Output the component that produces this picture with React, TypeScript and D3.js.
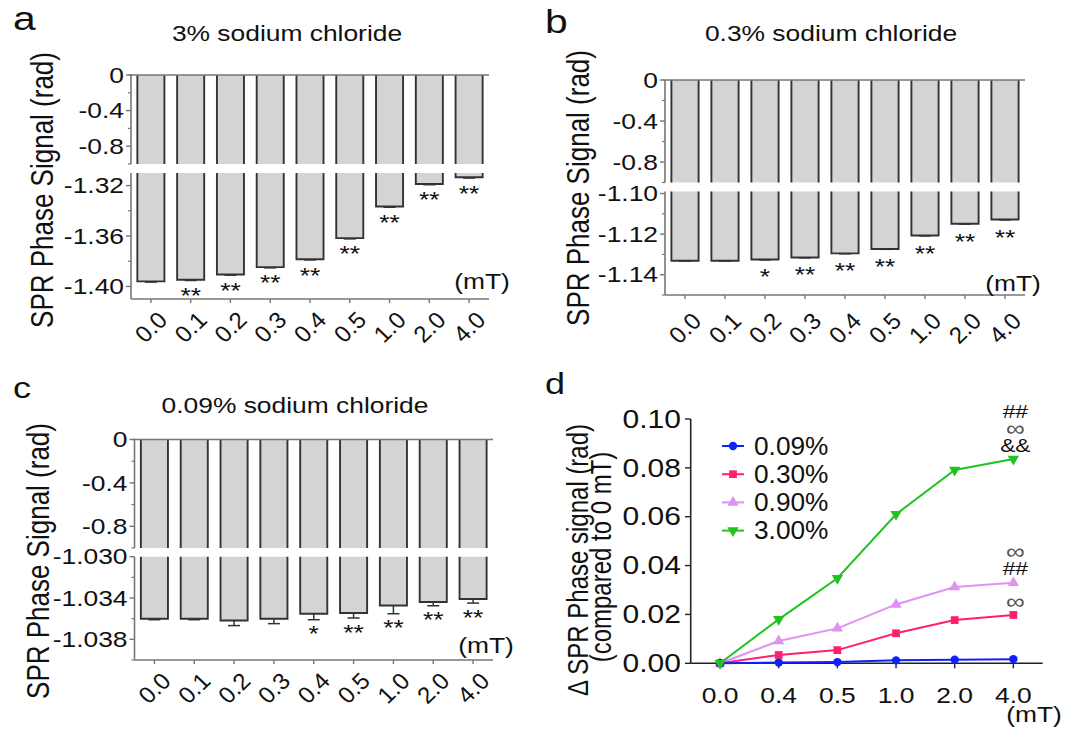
import React from 'react';
import * as d3 from 'd3';

// field strength categories (mT)
const fields = ['0.0', '0.1', '0.2', '0.3', '0.4', '0.5', '1.0', '2.0', '4.0'];

// panel a: 3% NaCl
const nacl3 = [-1.396, -1.3947, -1.3905, -1.3847, -1.3784, -1.3617, -1.3366, -1.3187, -1.3134];
const nacl3Err = [0.0006, 0.0006, 0.0006, 0.0006, 0.0006, 0.0006, 0.0006, 0.0006, 0.0006];
const nacl3Sig = ['', '**', '**', '**', '**', '**', '**', '**', '**'];

// panel b: 0.3% NaCl
const nacl03 = [-1.1331, -1.1331, -1.1325, -1.1315, -1.1295, -1.1273, -1.1207, -1.1149, -1.1128];
const nacl03Err = [0.0002, 0.0002, 0.0002, 0.0002, 0.0002, 0.0002, 0.0002, 0.0002, 0.0002];
const nacl03Sig = ['', '', '*', '**', '**', '**', '**', '**', '**'];

// panel c: 0.09% NaCl
const nacl009 = [-1.036, -1.036, -1.03617, -1.036, -1.03552, -1.03545, -1.03472, -1.03439, -1.0341];
const nacl009Err = [0.0001, 0.0001, 0.0005, 0.00048, 0.00058, 0.00048, 0.0008, 0.00036, 0.00039];
const nacl009Sig = ['', '', '', '', '*', '**', '**', '**', '**'];

// panel d: delta phase vs 0 mT
const dFields = ['0.0', '0.4', '0.5', '1.0', '2.0', '4.0'];
const d009 = [0, 0.0003, 0.0005, 0.0012, 0.0015, 0.0017];
const d030 = [0, 0.0034, 0.0054, 0.0123, 0.0177, 0.0198];
const d090 = [0, 0.0091, 0.0143, 0.0241, 0.0312, 0.033];
const d300 = [0, 0.018, 0.0348, 0.061, 0.0791, 0.0836];
const dTicks = [0, 0.02, 0.04, 0.06, 0.08, 0.1];
const annot300 = ['##', '∞', '&&'];
const annot090 = ['∞', '##'];
const annot030 = ['∞'];

const SX = 1.2;
const FONT = "'Liberation Sans', Arial, Helvetica, sans-serif";
const INK = '#111';
const AXIS = '#767676';

function T({ x, y, size, anchor = 'start', rot = 0, sx = SX, fill = INK, dy = '0.35em', children }: any) {
  const tr = `translate(${x},${y}) scale(${sx},1)` + (rot ? ` rotate(${rot})` : '');
  return (
    <text transform={tr} fontSize={size} textAnchor={anchor} dy={dy} fill={fill}>
      {children}
    </text>
  );
}

const fmtTick = (v: number, n: number) => (v === 0 ? '0' : v.toFixed(n));

function BarPanel({ cfg, values, errs, sig }: any) {
  const x = d3.scaleBand().domain(fields).range([cfg.x0, cfg.x1]).paddingInner(0.32).paddingOuter(0.16);
  const up = d3.scaleLinear().domain([-1, 0]).range([cfg.breakTop, cfg.zeroY]);
  const lo = d3.scaleLinear().domain(cfg.lowerDomain).range([cfg.bottomY, cfg.breakBot]);
  const bw = x.bandwidth();
  const upMajor = [0, -0.4, -0.8];
  const upMinor = [-0.2, -0.6, -1.0];

  return (
    <g>
      <T x={cfg.letterX} y={cfg.letterY} size={cfg.letterSize} dy="0">{cfg.letter}</T>
      <T x={cfg.titleX} y={cfg.titleY} size={22} anchor="middle">{cfg.title}</T>
      <T x={cfg.yTitleX} y={cfg.yTitleY} size={26} anchor="middle" rot={-90}>SPR Phase Signal (rad)</T>

      {/* bars, split at the axis break */}
      {values.map((v: number, i: number) => {
        const xl = x(fields[i]) as number;
        const yv = lo(v);
        return (
          <g key={i}>
            <rect x={xl} y={cfg.zeroY} width={bw} height={cfg.breakTop - cfg.zeroY} fill="#d4d4d4" />
            <rect x={xl} y={cfg.breakBot} width={bw} height={yv - cfg.breakBot} fill="#d4d4d4" />
            <path
              d={`M${xl},${cfg.zeroY}V${cfg.breakTop}M${xl + bw},${cfg.zeroY}V${cfg.breakTop}`}
              stroke="#333" strokeWidth={1.9} fill="none"
            />
            <path
              d={`M${xl},${cfg.breakBot}V${yv}H${xl + bw}V${cfg.breakBot}`}
              stroke="#333" strokeWidth={1.9} fill="none"
            />
          </g>
        );
      })}

      {/* error bars and significance */}
      {values.map((v: number, i: number) => {
        const cx = (x(fields[i]) as number) + bw / 2;
        const ye = lo(v - errs[i]);
        return (
          <g key={'e' + i}>
            <line x1={cx} x2={cx} y1={lo(v)} y2={ye} stroke="#333" strokeWidth={1.5} />
            <line x1={cx - 6} x2={cx + 6} y1={ye} y2={ye} stroke="#333" strokeWidth={1.5} />
            {sig[i] && (
              <T x={cx} y={ye + cfg.starGap + 12.6} size={22} anchor="middle" dy="0">{sig[i]}</T>
            )}
          </g>
        );
      })}

      {/* axes */}
      <line x1={cfg.x0 - 2} x2={cfg.x1} y1={cfg.zeroY} y2={cfg.zeroY} stroke={AXIS} strokeWidth={1.6} />
      <line x1={cfg.x0} x2={cfg.x1} y1={cfg.bottomY} y2={cfg.bottomY} stroke={AXIS} strokeWidth={1.6} />
      <line x1={cfg.x0} x2={cfg.x0} y1={cfg.zeroY} y2={cfg.breakTop} stroke={AXIS} strokeWidth={1.6} />
      <line x1={cfg.x0} x2={cfg.x0} y1={cfg.breakBot} y2={cfg.bottomY} stroke={AXIS} strokeWidth={1.6} />

      {upMajor.map((t) => (
        <g key={'um' + t}>
          <line x1={cfg.x0 - 5} x2={cfg.x0} y1={up(t)} y2={up(t)} stroke={AXIS} strokeWidth={1.4} />
          <T x={cfg.x0 - 7} y={up(t)} size={22} anchor="end">{fmtTick(t, 1)}</T>
        </g>
      ))}
      {upMinor.map((t) => (
        <line key={'un' + t} x1={cfg.x0 - 3} x2={cfg.x0} y1={up(t)} y2={up(t)} stroke={AXIS} strokeWidth={1.2} />
      ))}
      {cfg.lowerMajor.map((t: number) => (
        <g key={'lm' + t}>
          <line x1={cfg.x0 - 5} x2={cfg.x0} y1={lo(t)} y2={lo(t)} stroke={AXIS} strokeWidth={1.4} />
          <T x={cfg.x0 - 7} y={lo(t)} size={22} anchor="end">{fmtTick(t, cfg.digits)}</T>
        </g>
      ))}
      {cfg.lowerMinor.map((t: number) => (
        <line key={'ln' + t} x1={cfg.x0 - 3} x2={cfg.x0} y1={lo(t)} y2={lo(t)} stroke={AXIS} strokeWidth={1.2} />
      ))}

      {fields.map((f) => {
        const cx = (x(f) as number) + bw / 2;
        return (
          <g key={'x' + f}>
            <line x1={cx} x2={cx} y1={cfg.bottomY} y2={cfg.bottomY + 4} stroke={AXIS} strokeWidth={1.4} />
            <T x={cx} y={cfg.labelY} size={23} anchor="middle" rot={-45} sx={1.05}>{f}</T>
          </g>
        );
      })}
      <T x={cfg.mtX} y={cfg.mtY} size={22} anchor="middle">(mT)</T>
    </g>
  );
}

const cfgA = {
  x0: 131, x1: 489, zeroY: 75, breakTop: 164, breakBot: 173, bottomY: 299,
  lowerDomain: [-1.41, -1.31], lowerMajor: [-1.32, -1.36, -1.4], lowerMinor: [-1.34, -1.38], digits: 2,
  title: '3% sodium chloride', titleX: 287, titleY: 33, letter: 'a', letterX: 13, letterY: 30, letterSize: 34,
  yTitleX: 42, yTitleY: 190, mtX: 482, mtY: 281, labelY: 327, starGap: 10,
};
const cfgB = {
  x0: 665, x1: 1025, zeroY: 80, breakTop: 182.5, breakBot: 191.5, bottomY: 295,
  lowerDomain: [-1.15, -1.099], lowerMajor: [-1.1, -1.12, -1.14], lowerMinor: [-1.11, -1.13, -1.15], digits: 2,
  title: '0.3% sodium chloride', titleX: 831, titleY: 33, letter: 'b', letterX: 545, letterY: 33, letterSize: 34,
  yTitleX: 578, yTitleY: 188, mtX: 1013, mtY: 283, labelY: 328, starGap: 12,
};
const cfgC = {
  x0: 134.5, x1: 493, zeroY: 439.5, breakTop: 548, breakBot: 556.7, bottomY: 660,
  lowerDomain: [-1.04, -1.03], lowerMajor: [-1.03, -1.034, -1.038], lowerMinor: [-1.032, -1.036, -1.04], digits: 3,
  title: '0.09% sodium chloride', titleX: 295, titleY: 405, letter: 'c', letterX: 13, letterY: 398, letterSize: 30,
  yTitleX: 38, yTitleY: 561, mtX: 486, mtY: 645, labelY: 688, starGap: 9,
};

function LinePanel() {
  const x = d3.scalePoint().domain(dFields).range([690.7, 1042.7]).padding(0.5);
  const y = d3.scaleLinear().domain([0, 0.1]).range([663.3, 419]);
  const line = d3.line<number>().x((_, i) => x(dFields[i]) as number).y((d) => y(d));
  const series = [
    { name: '0.09%', data: d009, color: '#1020ff', sym: d3.symbolCircle, size: 55, rot: 0 },
    { name: '0.30%', data: d030, color: '#ff1f70', sym: d3.symbolSquare, size: 60, rot: 0 },
    { name: '0.90%', data: d090, color: '#de92f2', sym: d3.symbolTriangle, size: 55, rot: 0 },
    { name: '3.00%', data: d300, color: '#22c222', sym: d3.symbolTriangle, size: 55, rot: 180 },
  ];
  const drawOrder = [2, 1, 0, 3];
  const annots = [
    { lines: annot300, data: d300 },
    { lines: annot090, data: d090 },
    { lines: annot030, data: d030 },
  ];
  const lastX = x(dFields[dFields.length - 1]) as number;

  return (
    <g>
      <T x={545} y={394} size={30} dy="0">d</T>
      <T x={578} y={560} size={24} anchor="middle" rot={-90}>Δ SPR Phase signal (rad)</T>
      <T x={601} y={557} size={24} anchor="middle" rot={-90}>(compared to 0 mT)</T>

      {/* axes */}
      <line x1={690.7} x2={690.7} y1={y(0.1)} y2={y(0)} stroke="#222" strokeWidth={1.6} />
      <line x1={690.7} x2={1042.7} y1={y(0)} y2={y(0)} stroke="#222" strokeWidth={1.6} />
      {dTicks.map((t) => (
        <g key={t}>
          <line x1={685} x2={690.7} y1={y(t)} y2={y(t)} stroke="#222" strokeWidth={1.4} />
          <T x={681} y={y(t)} size={25} anchor="end">{t.toFixed(2)}</T>
        </g>
      ))}
      {dFields.map((f) => (
        <g key={f}>
          <line x1={x(f)} x2={x(f)} y1={y(0)} y2={y(0) + 5} stroke="#222" strokeWidth={1.4} />
          <T x={x(f)} y={695} size={22} anchor="middle">{f}</T>
        </g>
      ))}
      <T x={1034} y={714} size={22} anchor="middle">(mT)</T>

      {drawOrder.map((k) => {
        const s = series[k];
        return (
          <g key={s.name}>
            <path d={line(s.data) as string} fill="none" stroke={s.color} strokeWidth={2} />
            {s.data.map((v, i) => (
              <path key={i} d={d3.symbol().type(s.sym).size(s.size)() as string}
                transform={`translate(${x(dFields[i])},${y(v)}) rotate(${s.rot})`} fill={s.color} />
            ))}
          </g>
        );
      })}

      {annots.map((a, j) => {
        const py = y(a.data[a.data.length - 1]);
        return a.lines.map((t, i) => (
          <T key={j + '-' + i} x={lastX + 2} y={py - 14 - (a.lines.length - 1 - i) * 17}
            size={t === '∞' ? 22 : 19} anchor="middle" fill={t === '∞' ? '#555' : INK}>{t}</T>
        ));
      })}

      {/* legend */}
      {series.map((s, i) => {
        const ly = 446 + i * 28.2;
        return (
          <g key={'lg' + s.name}>
            <line x1={722} x2={744} y1={ly} y2={ly} stroke={s.color} strokeWidth={2} />
            <path d={d3.symbol().type(s.sym).size(s.size)() as string}
              transform={`translate(733,${ly}) rotate(${s.rot})`} fill={s.color} />
            <T x={754} y={ly} size={25} sx={1.05}>{s.name}</T>
          </g>
        );
      })}
    </g>
  );
}

export default function App() {
  return (
    <svg width={1077} height={731} style={{ position: 'absolute', left: 0, top: 0, background: '#fff' }}
      fontFamily={FONT}>
      <rect width={1077} height={731} fill="#fff" />
      <BarPanel cfg={cfgA} values={nacl3} errs={nacl3Err} sig={nacl3Sig} />
      <BarPanel cfg={cfgB} values={nacl03} errs={nacl03Err} sig={nacl03Sig} />
      <BarPanel cfg={cfgC} values={nacl009} errs={nacl009Err} sig={nacl009Sig} />
      <LinePanel />
    </svg>
  );
}
